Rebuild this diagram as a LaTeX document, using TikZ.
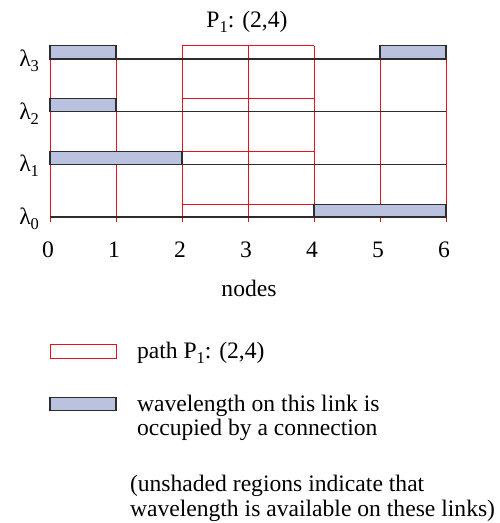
\documentclass[tikz,border=0pt]{standalone}
\usepackage{fontspec}
\setmainfont{Liberation Serif}
\definecolor{occ}{RGB}{186,194,224}
\definecolor{pathred}{RGB}{232,16,26}
\definecolor{linegray}{RGB}{45,45,45}
\newcommand{\lowsub}[1]{\raisebox{-5pt}{\fontsize{16.5}{16.5}\selectfont #1}}
\begin{document}
\begin{tikzpicture}[x=1pt,y=-1pt,
  txt/.style={inner sep=0pt,outer sep=0pt,font=\fontsize{23.6}{26}\selectfont},
  wl/.style={draw=linegray,line width=1.3pt},
  redl/.style={draw=pathred,line width=1pt},
  occbox/.style={draw=linegray,fill=occ,line width=1.3pt},
]
\useasboundingbox (0,0) rectangle (499,523);
% red vertical lines
\foreach \i in {0,1,5,6} {
  \draw[redl] ({50+66*\i},59) -- ({50+66*\i},222);
}
\foreach \i in {2,3,4} {
  \draw[redl] ({50+66*\i},45.7) -- ({50+66*\i},222);
}
% red horizontals of path P1
\foreach \y in {45.7,98.8,151.6,204.2} {
  \draw[redl] (182,\y) -- (314,\y);
}
% wavelength lines
\foreach \y in {59,111.7,164.3,217} {
  \draw[wl] (50,\y) -- (446,\y);
}
% occupied boxes
\draw[occbox] (50,45.7) rectangle (116,59);
\draw[occbox] (380,45.7) rectangle (446,59);
\draw[occbox] (50,98.8) rectangle (116,111.7);
\draw[occbox] (50,151.6) rectangle (182,164.3);
\draw[occbox] (314,204.2) rectangle (446,217);
% wavelength labels
\node[txt,anchor=base east] (l3) at (39,66.5) {λ\lowsub{3}};
\node[txt,anchor=base east] (l2) at (39,119) {λ\lowsub{2}};
\node[txt,anchor=base east] (l1) at (39,171.5) {λ\lowsub{1}};
\node[txt,anchor=base east] (l0) at (39,224) {λ\lowsub{0}};
% tick labels
\foreach \i in {0,...,6} {
  \node[txt,anchor=base] (t\i) at ({48+66*\i},257) {\i};
}
\node[txt,anchor=base] (nodes) at (249,296) {nodes};
\node[txt,anchor=base] (title) at (247,27) {P\lowsub{1}: (2,4)};
% legend
\draw[redl] (50,344.5) rectangle (116,358);
\node[txt,anchor=base west] (lp) at (137,358) {path P\lowsub{1}: (2,4)};
\draw[occbox] (50,397.7) rectangle (116,410.7);
\node[txt,anchor=base west] (lo1) at (137,411) {wavelength on this link is};
\node[txt,anchor=base west] (lo2) at (137,435.5) {occupied by a connection};
\node[txt,anchor=base west] (lu1) at (130,491.5) {(unshaded regions indicate that};
\node[txt,anchor=base west] (lu2) at (130,516.5) {wavelength is available on these links)};
\end{tikzpicture}
\end{document}
